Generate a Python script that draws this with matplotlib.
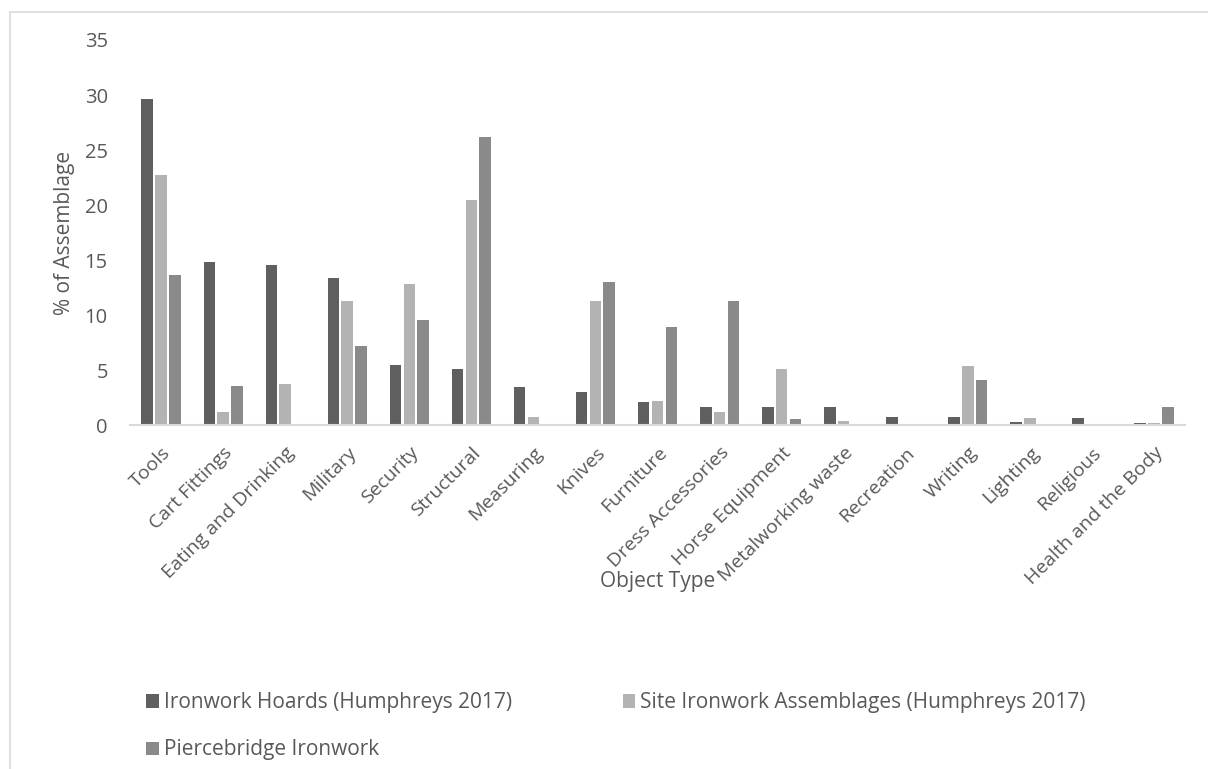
import numpy as np
import matplotlib
matplotlib.use("Agg")
import matplotlib.pyplot as plt
from matplotlib.patches import Rectangle

plt.rcParams["font.family"] = ["Open Sans", "DejaVu Sans"]

categories = ["Tools", "Cart Fittings", "Eating and Drinking", "Military", "Security",
              "Structural", "Measuring", "Knives", "Furniture", "Dress Accessories",
              "Horse Equipment", "Metalworking waste", "Recreation", "Writing",
              "Lighting", "Religious", "Health and the Body"]
hoards = [29.6, 14.8, 14.6, 13.4, 5.5, 5.1, 3.5, 3.0, 2.15, 1.7, 1.7, 1.7, 0.8,
          0.8, 0.3, 0.65, 0.2]
site = [22.7, 1.2, 3.8, 11.3, 12.85, 20.5, 0.75, 11.3, 2.2, 1.25, 5.1, 0.45, 0.0,
        5.4, 0.65, 0.0, 0.25]
pierce = [13.7, 3.6, 0.0, 7.2, 9.55, 26.2, 0.0, 13.0, 8.9, 11.3, 0.55, 0.0, 0.0,
          4.1, 0.0, 0.0, 1.7]
series = [("Ironwork Hoards (Humphreys 2017)", hoards, "#5f5f5f"),
          ("Site Ironwork Assemblages (Humphreys 2017)", site, "#b3b3b3"),
          ("Piercebridge Ironwork", pierce, "#8a8a8a")]

txt = "#595959"
fig = plt.figure(figsize=(12.08, 7.69), dpi=100)
ax = fig.add_axes([0.1076, 0.4467, 0.8734, 0.5013])

x = np.arange(len(categories))
pitch, width = 0.222, 0.185
bars = []
for i, (name, vals, col) in enumerate(series):
    b = ax.bar(x + (i - 1) * pitch, vals, width, color=col, label=name)
    bars.append(b)

ax.set_xlim(-0.5, len(categories) - 0.5)
ax.set_ylim(0, 35)
ax.set_yticks(range(0, 36, 5))
ax.tick_params(axis="both", length=0, labelsize=14.5, colors=txt)
ax.tick_params(axis="y", pad=16)
ax.tick_params(axis="x", pad=13, labelsize=14)
ax.set_xticks(x)
ax.set_xticklabels(categories, rotation=45, ha="right", rotation_mode="anchor")
for s in ["top", "right", "left"]:
    ax.spines[s].set_visible(False)
ax.spines["bottom"].set_color("#d9d9d9")
ax.spines["bottom"].set_linewidth(1.5)

ax.set_ylabel("% of Assemblage", fontsize=15, color=txt, labelpad=7)
fig.text(0.544, 1 - 581 / 769, "Object Type", fontsize=15, color=txt,
         ha="center", va="center")

# row-wise order: hoards, site on the first row, piercebridge below
order = [bars[0], bars[2], bars[1]]
fig.legend(handles=order, labels=[b.get_label() for b in order],
           loc="upper left", bbox_to_anchor=(136 / 1208, 1 - 682 / 769),
           ncol=2, frameon=False, fontsize=15, labelcolor=txt,
           handlelength=0.6, handleheight=0.6, handletextpad=0.25,
           columnspacing=5.3, labelspacing=1.25, borderpad=0)

# outer chart-area frame
fig.add_artist(Rectangle((9.5 / 1208, -0.1), 1.2, 1 - 11.5 / 769 + 0.1,
                         transform=fig.transFigure, fill=False,
                         edgecolor="#d9d9d9", linewidth=1.2))

fig.savefig("out.png", dpi=100)
